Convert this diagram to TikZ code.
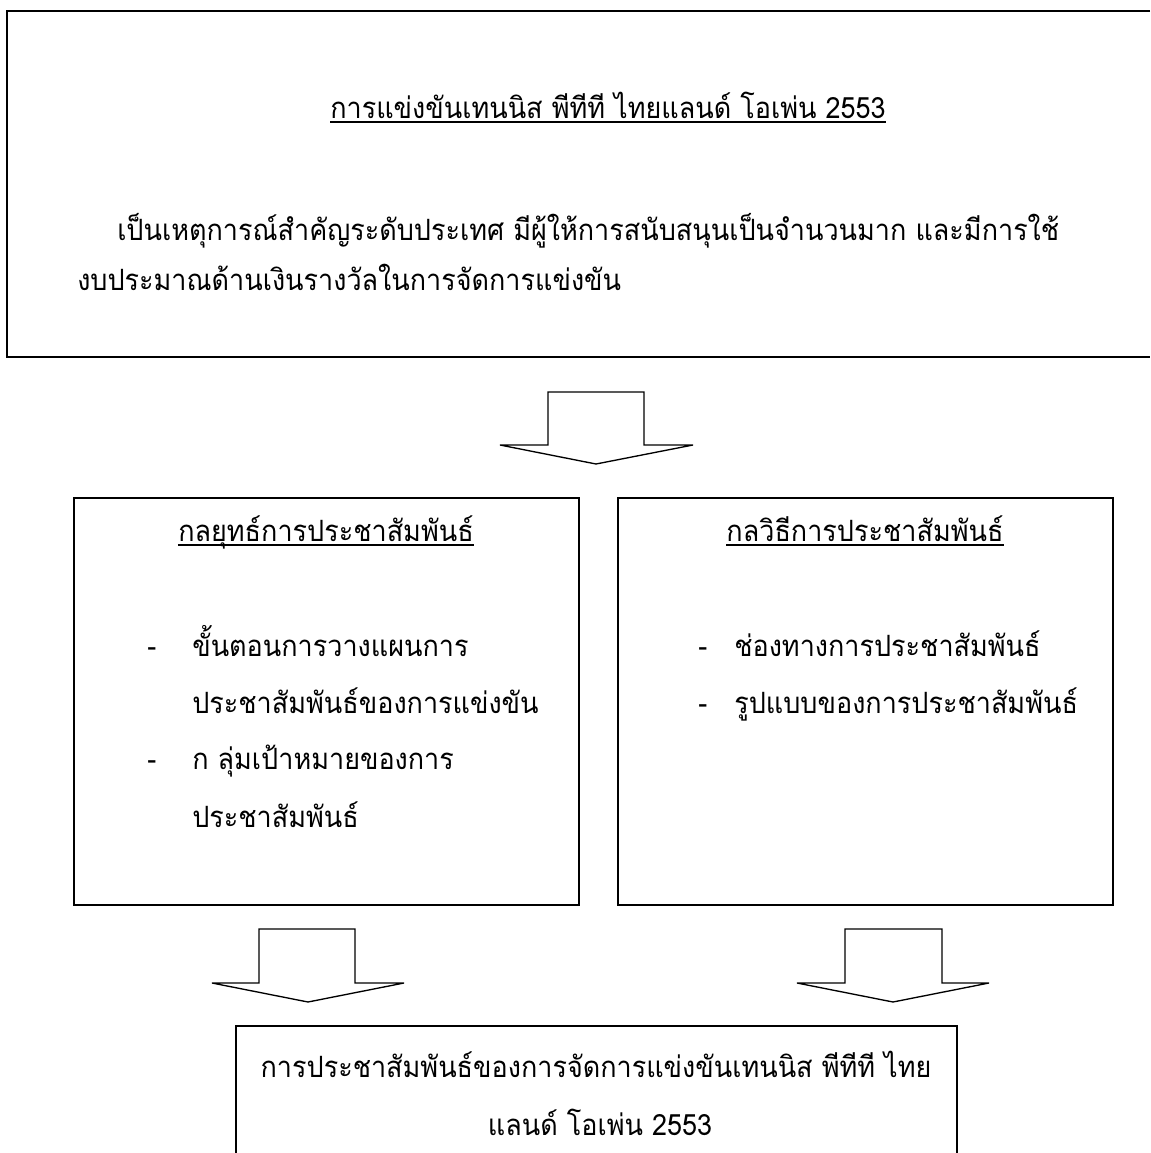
\documentclass[tikz,border=0pt]{standalone}
\usepackage{fontspec}
\newfontfamily\thaifont[Script=Thai,FakeStretch=0.92]{Loma}
\begin{document}
\begin{tikzpicture}[x=0.75pt,y=-0.75pt,
  boxline/.style={line width=1.5pt,line join=miter},
  blockarrow/.style={line width=1pt,line join=miter,fill=white},
  txt/.style={inner sep=0pt,font=\thaifont\fontsize{22}{22}\selectfont},
  uline/.style={line width=0.9pt}]
\useasboundingbox (0,0) rectangle (1150,1153);
\fill[white] (0,0) rectangle (1150,1153);
% top box (right edge off page)
\draw[boxline] (1150,11) -- (7,11) -- (7,357) -- (1150,357);
\node[txt,anchor=base] (ttl) at (608,118) {การแข่งขันเทนนิส พีทีที ไทยแลนด์ โอเพ่น 2553};
\draw[uline] ([yshift=-3pt]ttl.base west) -- ([yshift=-3pt]ttl.base east);
\node[txt,anchor=base west] (b1) at (117,240) {เป็นเหตุการณ์สำคัญระดับประเทศ มีผู้ให้การสนับสนุนเป็นจำนวนมาก และมีการใช้};
\node[txt,anchor=base west] (b2) at (77,290) {งบประมาณด้านเงินรางวัลในการจัดการแข่งขัน};
% top arrow
\draw[blockarrow] (548,392) -- (644,392) -- (644,445) -- (693,445) -- (596,464) -- (500,445) -- (548,445) -- cycle;
% left box
\draw[boxline] (74,498) rectangle (579,905);
\node[txt,anchor=base] (lt) at (326,541) {กลยุทธ์การประชาสัมพันธ์};
\draw[uline] ([yshift=-3pt]lt.base west) -- ([yshift=-3pt]lt.base east);
\node[txt,anchor=base west] (ld1) at (147,656) {-};
\node[txt,anchor=base west] (l1) at (192,656) {ขั้นตอนการวางแผนการ};
\node[txt,anchor=base west] (l2) at (192,713) {ประชาสัมพันธ์ของการแข่งขัน};
\node[txt,anchor=base west] (ld2) at (147,769) {-};
\node[txt,anchor=base west] (l3) at (192,769) {ก ลุ่มเป้าหมายของการ};
\node[txt,anchor=base west] (l4) at (192,827) {ประชาสัมพันธ์};
% right box
\draw[boxline] (618,498) rectangle (1113,905);
\node[txt,anchor=base] (rt) at (865,541) {กลวิธีการประชาสัมพันธ์};
\draw[uline] ([yshift=-3pt]rt.base west) -- ([yshift=-3pt]rt.base east);
\node[txt,anchor=base west] (rd1) at (698,656) {-};
\node[txt,anchor=base west] (r1) at (734,656) {ช่องทางการประชาสัมพันธ์};
\node[txt,anchor=base west] (rd2) at (698,713) {-};
\node[txt,anchor=base west] (r2) at (734,713) {รูปแบบของการประชาสัมพันธ์};
% lower arrows
\draw[blockarrow] (259,929) -- (355,929) -- (355,983) -- (404,983) -- (308,1002) -- (212,983) -- (259,983) -- cycle;
\draw[blockarrow] (845,929) -- (942,929) -- (942,983) -- (989,983) -- (893,1002) -- (797,983) -- (845,983) -- cycle;
% bottom box (bottom edge off page)
\draw[boxline] (236,1153) -- (236,1026) -- (957,1026) -- (957,1153);
\node[txt,anchor=base] (f1) at (596,1077) {การประชาสัมพันธ์ของการจัดการแข่งขันเทนนิส พีทีที ไทย};
\node[txt,anchor=base] (f2) at (600,1135) {แลนด์ โอเพ่น 2553};
\end{tikzpicture}
\end{document}
